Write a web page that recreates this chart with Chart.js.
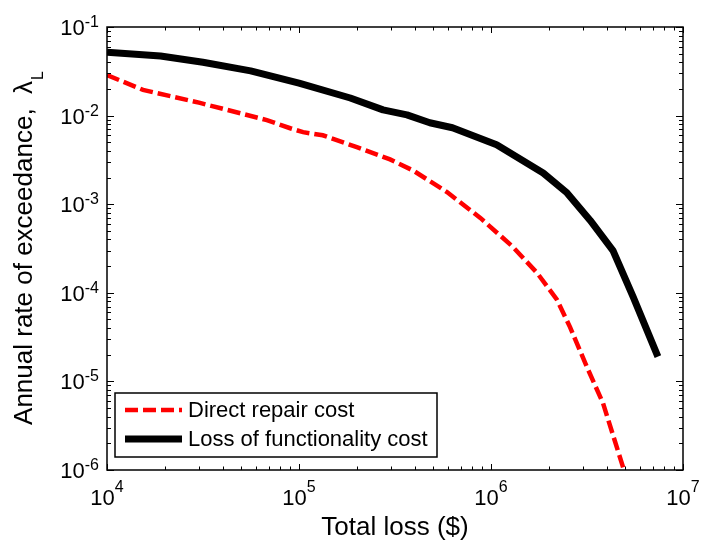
<!DOCTYPE html>
<html>
<head>
<meta charset="utf-8">
<script src="https://cdn.jsdelivr.net/npm/chart.js@4.4.1/dist/chart.umd.min.js"></script>
<style>
  html, body { margin: 0; padding: 0; background: #fff; }
</style>
</head>
<body>
<canvas id="chart" width="702" height="543"></canvas>
<script>
// values
const directLoss = [1.0e4, 1.54e4, 3.05e4, 6.8e4, 9.0e4, 1.05e5, 1.33e5, 2.0e5, 2.98e5, 3.93e5,
                    5.9e5, 8.8e5, 1.3e6, 1.74e6, 2.21e6, 2.58e6, 3.16e6, 3.83e6, 5.0e6];
const directRate = [0.0287, 0.0195, 0.0139, 0.0089, 0.0072, 0.0065, 0.0060, 0.0044, 0.0032, 0.0024,
                    0.00137, 7.0e-4, 3.3e-4, 1.67e-4, 8.3e-5, 4.1e-5, 1.45e-5, 5.7e-6, 9e-7];

const funcLoss = [1.0e4, 1.9e4, 3.16e4, 5.6e4, 1.0e5, 1.85e5, 2.74e5, 3.65e5, 4.8e5, 6.3e5,
                  1.07e6, 1.87e6, 2.49e6, 3.28e6, 4.32e6, 5.5e6, 7.4e6];
const funcRate = [0.052, 0.047, 0.040, 0.032, 0.0233, 0.0158, 0.0116, 0.0102, 0.0083, 0.0073,
                  0.0047, 0.00225, 0.00134, 6.6e-4, 3.0e-4, 9.0e-5, 1.9e-5];

const seriesNames = ['Direct repair cost', 'Loss of functionality cost'];
const xExponents = [4, 5, 6, 7];
const yExponents = [-6, -5, -4, -3, -2, -1];
const xTitle = 'Total loss ($)';
const yTitle = 'Annual rate of exceedance,  ';

const FONT = '"Liberation Sans", Arial, sans-serif';

function pts(xs, ys){ return xs.map((x, i) => ({ x, y: ys[i] })); }

// MATLAB-ish box axes: inward ticks, 10^n labels, titles, legend
const axesBox = {
  id: 'axesBox',
  afterDatasetsDraw(chart) {
    const ctx = chart.ctx;
    const a = chart.chartArea;
    const xs = chart.scales.x, ys = chart.scales.y;
    ctx.save();
    ctx.strokeStyle = '#000';
    ctx.fillStyle = '#000';
    ctx.lineWidth = 1.5;
    ctx.strokeRect(a.left, a.top, a.right - a.left, a.bottom - a.top);

    // ticks
    ctx.lineWidth = 1;
    ctx.beginPath();
    xExponents.forEach((e, i) => {
      for (let m = 1; m <= 9; m++) {
        if (m > 1 && i === xExponents.length - 1) break;
        const px = Math.round(xs.getPixelForValue(m * Math.pow(10, e))) + 0.5;
        const len = m === 1 ? 6 : 3.5;
        ctx.moveTo(px, a.bottom); ctx.lineTo(px, a.bottom - len);
        ctx.moveTo(px, a.top); ctx.lineTo(px, a.top + len);
      }
    });
    yExponents.forEach((e, i) => {
      for (let m = 1; m <= 9; m++) {
        if (m > 1 && i === yExponents.length - 1) break;
        const py = Math.round(ys.getPixelForValue(m * Math.pow(10, e))) + 0.5;
        const len = m === 1 ? 7 : 4;
        ctx.moveTo(a.left, py); ctx.lineTo(a.left + len, py);
        ctx.moveTo(a.right, py); ctx.lineTo(a.right - len, py);
      }
    });
    ctx.stroke();

    // tick labels
    const big = '22px ' + FONT, small = '16px ' + FONT;
    ctx.textBaseline = 'alphabetic';
    ctx.textAlign = 'left';
    xExponents.forEach(e => {
      const px = xs.getPixelForValue(Math.pow(10, e));
      ctx.font = big; const w1 = ctx.measureText('10').width;
      ctx.font = small; const w2 = ctx.measureText(String(e)).width;
      const x0 = px - (w1 + w2) / 2;
      ctx.font = big; ctx.fillText('10', x0, a.bottom + 35);
      ctx.font = small; ctx.fillText(String(e), x0 + w1, a.bottom + 22);
    });
    yExponents.forEach(e => {
      const py = ys.getPixelForValue(Math.pow(10, e));
      const lab = e < 0 ? '-' + Math.abs(e) : String(e);
      ctx.font = big; const w1 = ctx.measureText('10').width;
      ctx.font = small; const w2 = ctx.measureText(lab).width;
      const x0 = a.left - 8 - w1 - w2;
      ctx.font = big; ctx.fillText('10', x0, py + 8);
      ctx.font = small; ctx.fillText(lab, x0 + w1, py);
    });

    // axis titles
    ctx.font = '26px ' + FONT;
    ctx.textAlign = 'center';
    ctx.fillText(xTitle, (a.left + a.right) / 2, 535);

    ctx.save();
    ctx.translate(32, (a.top + a.bottom) / 2);
    ctx.rotate(-Math.PI / 2);
    ctx.textAlign = 'left';
    ctx.font = '26px ' + FONT;
    const wMain = ctx.measureText(yTitle).width;
    const wLam = ctx.measureText('λ').width;
    ctx.font = '16px ' + FONT;
    const wSub = ctx.measureText('L').width;
    let tx = -(wMain + wLam + wSub) / 2;
    ctx.font = '26px ' + FONT;
    ctx.fillText(yTitle, tx, 0); tx += wMain;
    ctx.fillText('λ', tx, 0); tx += wLam;
    ctx.font = '16px ' + FONT;
    ctx.fillText('L', tx + 1, 11);
    ctx.restore();

    // legend
    const lx = 115, ly = 393, lw = 322, lh = 64;
    ctx.fillStyle = '#fff';
    ctx.fillRect(lx, ly, lw, lh);
    ctx.lineWidth = 1.5;
    ctx.strokeStyle = '#000';
    ctx.strokeRect(lx, ly, lw, lh);
    const rows = [410, 439];
    chart.data.datasets.forEach((ds, i) => {
      ctx.save();
      ctx.strokeStyle = ds.borderColor;
      ctx.lineWidth = ds.borderWidth;
      ctx.setLineDash(ds.borderDash || []);
      ctx.beginPath();
      ctx.moveTo(125, rows[i]); ctx.lineTo(182, rows[i]);
      ctx.stroke();
      ctx.restore();
      ctx.fillStyle = '#000';
      ctx.font = '22px ' + FONT;
      ctx.textAlign = 'left';
      ctx.textBaseline = 'middle';
      ctx.fillText(ds.label, 188, rows[i] + 1);
    });
    ctx.restore();
  }
};

new Chart(document.getElementById('chart'), {
  type: 'line',
  data: {
    datasets: [
      { label: seriesNames[0], data: pts(directLoss, directRate), borderColor: '#ff0000',
        borderWidth: 4.5, borderDash: [13, 5], borderCapStyle: 'butt', pointRadius: 0, tension: 0, fill: false },
      { label: seriesNames[1], data: pts(funcLoss, funcRate), borderColor: '#000000',
        borderWidth: 7, borderJoinStyle: 'round', pointRadius: 0, tension: 0, fill: false }
    ]
  },
  options: {
    responsive: false,
    animation: false,
    layout: { padding: { left: 107, right: 19, top: 27, bottom: 73 } },
    plugins: { legend: { display: false }, tooltip: { enabled: false } },
    scales: {
      x: { type: 'logarithmic', min: 1e4, max: 1e7, display: false },
      y: { type: 'logarithmic', min: 1e-6, max: 1e-1, display: false }
    }
  },
  plugins: [axesBox]
});
</script>
</body>
</html>
